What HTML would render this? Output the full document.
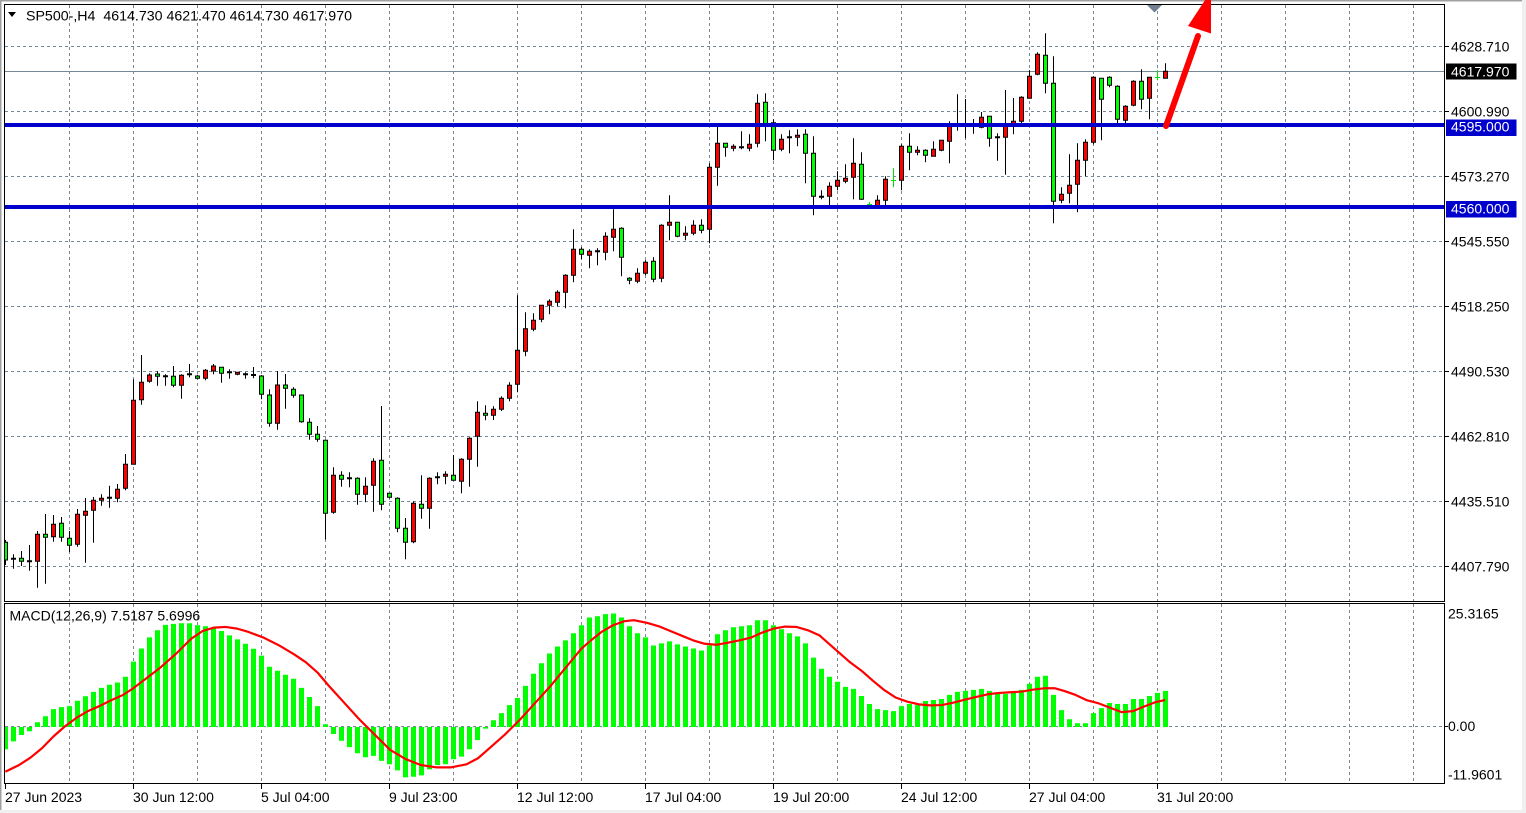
<!DOCTYPE html>
<html><head><meta charset="utf-8"><style>
html,body{margin:0;padding:0;background:#fff;width:1526px;height:813px;overflow:hidden}
svg{display:block}
text{font-family:"Liberation Sans",Arial,sans-serif;font-size:14px;fill:#000}
</style></head><body>
<svg width="1526" height="813" viewBox="0 0 1526 813" xmlns="http://www.w3.org/2000/svg">
<defs>
<clipPath id="cm"><rect x="5" y="5" width="1439" height="596"/></clipPath>
<clipPath id="cd"><rect x="5" y="604" width="1439" height="179"/></clipPath>
</defs>
<rect x="0" y="0" width="1526" height="813" fill="#fff"/>
<rect x="0" y="0" width="1526" height="1.5" fill="#a0a0a0"/>
<rect x="0" y="0" width="1.5" height="813" fill="#a0a0a0"/>
<rect x="1522" y="0" width="4" height="813" fill="#f0f0f0"/>
<rect x="0" y="810" width="1526" height="3" fill="#f0f0f0"/>

<!-- grid main -->
<g stroke="#778899" stroke-width="1" stroke-dasharray="3 3" fill="none">
<path d="M5 46.5H1444M5 111.5H1444M5 176.5H1444M5 241.5H1444M5 306.5H1444M5 371.5H1444M5 436.5H1444M5 501.5H1444M5 566.5H1444"/>
<path d="M69.5 5V601M133.5 5V601M197.5 5V601M261.5 5V601M325.5 5V601M389.5 5V601M453.5 5V601M517.5 5V601M581.5 5V601M645.5 5V601M709.5 5V601M773.5 5V601M837.5 5V601M901.5 5V601M965.5 5V601M1029.5 5V601M1093.5 5V601M1157.5 5V601M1221.5 5V601M1285.5 5V601M1349.5 5V601M1413.5 5V601"/>
<path d="M69.5 604V783M133.5 604V783M197.5 604V783M261.5 604V783M325.5 604V783M389.5 604V783M453.5 604V783M517.5 604V783M581.5 604V783M645.5 604V783M709.5 604V783M773.5 604V783M837.5 604V783M901.5 604V783M965.5 604V783M1029.5 604V783M1093.5 604V783M1157.5 604V783M1221.5 604V783M1285.5 604V783M1349.5 604V783M1413.5 604V783"/>
<path d="M5 726.5H1444"/>
</g>

<g clip-path="url(#cm)">
<!-- price line -->
<path d="M5 71.5H1444" stroke="#778899" stroke-width="1"/>
<!-- wicks -->
<path fill="none" stroke="#000" stroke-width="1" d="M5.5 540V565M13.5 554.3V568.7M21.5 551V566M29.5 545V570.7M37.5 531V587.7M45.5 514V583.7M53.5 515V541.7M61.5 517V541.7M69.5 531V552M77.5 509V546.7M85.5 498V562.7M93.5 497V542.7M101.5 494.3V505.7M109.5 485.7V507.7M117.5 484V502.3M125.5 454V490.3M133.5 379.3V464.3M141.5 355V404.7M149.5 373.3V382.7M157.5 371.3V385.7M165.5 374.3V385.7M173.5 366V387.3M181.5 374.3V398.7M189.5 364V377.3M197.5 374.7V379.3M205.5 369V380.3M213.5 364V374.3M221.5 367.3V382.7M229.5 369.3V378.7M237.5 372V375.3M245.5 372.3V378.7M253.5 367V378.3M261.5 375V399.3M269.5 389.3V426.7M277.5 371V429.7M285.5 374V408.7M293.5 387.3V397.7M301.5 395V422.7M309.5 418.3V439.7M317.5 426V441.7M325.5 440.3V539.3M333.5 467.3V513.7M341.5 471.3V486.7M349.5 472.3V487.3M357.5 477.3V504.7M365.5 477.3V502.3M373.5 458.3V511.7M381.5 406V510.3M389.5 493.3V498.3M397.5 497.3V532.3M405.5 518V559.3M413.5 501.3V543.3M421.5 475.3V518.7M429.5 477.3V528.7M437.5 472.3V484.3M445.5 471.3V484.3M453.5 455V480.3M461.5 458.3V493.3M469.5 437.3V486.7M477.5 401.3V466.7M485.5 405.3V420.3M493.5 406.3V420M501.5 396.3V411M509.5 382.3V401.3M517.5 295.3V392.3M525.5 312.3V356.3M533.5 313.3V331.3M541.5 305.3V322.3M549.5 299.3V314.3M557.5 290.3V306.3M565.5 274.3V308.3M573.5 229.3V282.3M581.5 247.3V259.3M589.5 249.3V268.3M597.5 248.3V265.3M605.5 232.3V260.3M613.5 209.3V251.3M621.5 227.3V276.3M629.5 277.3V284.3M637.5 268.3V283.3M645.5 260.3V275.3M653.5 257.3V282.3M661.5 224.3V282.3M669.5 195.3V240.3M677.5 222.3V237.3M685.5 226.3V240.3M693.5 220.3V235.3M701.5 219.3V233.3M709.5 163.3V243.3M717.5 126.7V185.7M725.5 143.3V156.7M733.5 144.3V151.3M741.5 131.3V149.3M749.5 134.3V151.3M757.5 94.3V147.3M765.5 93.3V141.3M773.5 119.3V160.3M781.5 134.3V151.3M789.5 130.3V153.3M797.5 129.3V146.3M805.5 129.3V183.3M813.5 136.3V215.3M821.5 190.3V199.3M829.5 182.3V206.7M837.5 171.3V190.3M845.5 164.3V183.3M853.5 138.3V199.3M861.5 152.3V200M877.5 195.3V208M885.5 176.3V206M901.5 144.3V190.3M909.5 133.3V170.3M917.5 146.3V155.3M925.5 149.3V162.3M933.5 141.3V156.3M941.5 140.3V151.3M949.5 121.3V163.3M957.5 94.3V130.7M965.5 99V138.3M973.5 119V133.7M981.5 112V128.3M989.5 116.3V146.7M997.5 133.3V160.7M1005.5 90V174.7M1013.5 98V134.3M1021.5 96.3V126.3M1029.5 70.3V98.3M1037.5 52.3V75.3M1045.5 33.3V93.3M1053.5 56.3V223.3M1061.5 187.3V203.3M1069.5 154.3V203.3M1077.5 143.3V212.3M1085.5 139.3V176.3M1093.5 76.3V144.3M1101.5 78.3V140.3M1109.5 76.3V87.3M1117.5 85.3V123.3M1125.5 105.3V123.3M1133.5 80.3V106.3M1141.5 69.3V109.3M1149.5 77.3V119.3M1165.5 63.3V78.3"/>
<!-- red bodies -->
<path fill="#ff0000" stroke="#000" stroke-width="1" d="M35.5 534.3h4V561.3h-4zM51.5 524.3h4V536.7h-4zM75.5 514.3h4V544.3h-4zM83.5 511.3h4V515.3h-4zM91.5 500.3h4V510.3h-4zM99.5 498.3h4V500.3h-4zM115.5 489.3h4V498.3h-4zM123.5 464.3h4V488.3h-4zM131.5 400.3h4V464.3h-4zM139.5 382.3h4V399.7h-4zM147.5 375h4V381.3h-4zM179.5 375.3h4V385.3h-4zM203.5 370.3h4V378.3h-4zM211.5 366h4V371h-4zM235.5 372.3h4V374.3h-4zM275.5 385h4V423.3h-4zM331.5 475.3h4V512.3h-4zM363.5 486.3h4V494.3h-4zM371.5 461.3h4V485.3h-4zM411.5 503.3h4V541.7h-4zM427.5 478.3h4V508.3h-4zM443.5 474.3h4V476.3h-4zM459.5 459.3h4V481.3h-4zM467.5 438.3h4V459.3h-4zM475.5 412.3h4V436.3h-4zM491.5 409.3h4V415.3h-4zM499.5 398.3h4V409.3h-4zM507.5 385.3h4V398.3h-4zM515.5 350.3h4V384.3h-4zM523.5 328.7h4V351.3h-4zM531.5 320.3h4V329.3h-4zM539.5 305.3h4V319.3h-4zM547.5 301.3h4V305.3h-4zM555.5 292.3h4V302.3h-4zM563.5 275.3h4V292.3h-4zM571.5 249.3h4V275.3h-4zM587.5 251.3h4V255.3h-4zM603.5 236.3h4V252.3h-4zM611.5 229.3h4V237.3h-4zM635.5 273.3h4V281.3h-4zM643.5 262.3h4V273.3h-4zM659.5 225.3h4V278.3h-4zM667.5 222.3h4V225.3h-4zM683.5 233.3h4V235.3h-4zM691.5 225.3h4V233.3h-4zM707.5 167.3h4V229.3h-4zM715.5 143.3h4V167.3h-4zM731.5 146.3h4V148.3h-4zM747.5 144.3h4V148.3h-4zM755.5 103.3h4V143.3h-4zM779.5 139.3h4V149.3h-4zM795.5 135.3h4V137.3h-4zM827.5 186.3h4V196.3h-4zM835.5 180.3h4V186.3h-4zM843.5 178.3h4V181.3h-4zM851.5 163.3h4V177.3h-4zM875.5 200.3h4V206h-4zM883.5 179.3h4V200.3h-4zM899.5 146.3h4V180.3h-4zM915.5 150.3h4V152.3h-4zM931.5 149.3h4V156.3h-4zM939.5 140.3h4V150.3h-4zM947.5 126.3h4V141.3h-4zM979.5 117.3h4V127.3h-4zM1003.5 125.3h4V137.3h-4zM1011.5 121.3h4V125.3h-4zM1019.5 97.3h4V121.3h-4zM1027.5 76.3h4V98.3h-4zM1035.5 54.3h4V74.3h-4zM1059.5 194.3h4V200.3h-4zM1067.5 185.3h4V193.3h-4zM1075.5 160.3h4V184.3h-4zM1083.5 142.3h4V160.3h-4zM1091.5 77.3h4V142.3h-4zM1123.5 106.3h4V120.3h-4zM1131.5 81.3h4V105.3h-4zM1147.5 77.3h4V98.3h-4zM1163.5 71.3h4V78.3h-4z"/>
<!-- green bodies -->
<path fill="#00ff00" stroke="#000" stroke-width="1" d="M3.5 542.3h4V560h-4zM19.5 558.3h4V561.3h-4zM43.5 534.3h4V537.3h-4zM59.5 523.3h4V537.3h-4zM67.5 538.3h4V545.3h-4zM155.5 374h4V376.3h-4zM171.5 376.3h4V385.3h-4zM195.5 376h4V378.3h-4zM219.5 367.3h4V373.3h-4zM259.5 376h4V394.3h-4zM267.5 395h4V423.3h-4zM283.5 385h4V388.3h-4zM291.5 389.3h4V395.3h-4zM299.5 395h4V421.7h-4zM307.5 422.3h4V434.3h-4zM315.5 434.3h4V439.3h-4zM323.5 440.3h4V513.3h-4zM339.5 475.3h4V479.3h-4zM355.5 478.3h4V494.3h-4zM379.5 460.3h4V504.3h-4zM387.5 493.3h4V497.3h-4zM395.5 498.3h4V528.3h-4zM403.5 528.3h4V542.3h-4zM419.5 504.3h4V508.3h-4zM451.5 475.3h4V480.3h-4zM483.5 413.3h4V415.3h-4zM579.5 249.3h4V254.3h-4zM619.5 228.3h4V257.3h-4zM627.5 278.3h4V280.3h-4zM651.5 261.3h4V279.3h-4zM675.5 222.3h4V236.3h-4zM699.5 225.3h4V230.3h-4zM723.5 143.3h4V147.3h-4zM763.5 102.3h4V125h-4zM771.5 122.7h4V150.3h-4zM803.5 134.3h4V153.3h-4zM811.5 153.3h4V196.3h-4zM859.5 164.3h4V199.3h-4zM907.5 146.3h4V152.3h-4zM923.5 150.3h4V155.3h-4zM987.5 116.3h4V138.3h-4zM1043.5 55.3h4V83.3h-4zM1051.5 83.3h4V201.3h-4zM1099.5 78.3h4V99.3h-4zM1107.5 77.3h4V85.3h-4zM1115.5 86.3h4V119.3h-4zM1139.5 81.3h4V99.3h-4z"/>
<!-- doji dashes -->
<path fill="#000" stroke="#000" stroke-width="1" d="M11.5 558.3h4v1h-4zM27.5 560.8h4v1h-4zM107.5 497.2h4v1h-4zM163.5 375.8h4v1h-4zM187.5 373.8h4v1h-4zM227.5 371.8h4v1h-4zM243.5 373.8h4v1h-4zM251.5 374.5h4v1h-4zM347.5 477.8h4v1h-4zM435.5 476.8h4v1h-4zM595.5 250.8h4v1h-4zM739.5 146.8h4v1h-4zM787.5 136.8h4v1h-4zM819.5 196.2h4v1h-4zM955.5 124.5h4v1h-4zM963.5 124.5h4v1h-4zM971.5 124.5h4v1h-4zM995.5 136.8h4v1h-4z"/>
<!-- lime crosses -->
<path fill="none" stroke="#00dd00" stroke-width="1" d="M869.5 202V206M867 204.5h5M893.5 168.3V187.3M891 180.5h5M1157.5 70.3V80.3M1155 77.5h5"/>
<!-- blue levels -->
<path d="M5 125H1444M5 207H1444" stroke="#0000cd" stroke-width="4"/>
</g>

<!-- chart shift marker -->
<polygon points="1147,5 1162,5 1154.5,12.5" fill="#708090"/>

<!-- MACD -->
<g clip-path="url(#cd)">
<path fill="#00ff00" d="M3 749.2h5V727h-5zM11 741.4h5V727h-5zM19 735h5V727h-5zM27 731.3h5V727h-5zM35 722.2h5V727h-5zM43 716.2h5V727h-5zM51 709.1h5V727h-5zM59 707.1h5V727h-5zM67 706.1h5V727h-5zM75 700.7h5V727h-5zM83 696.3h5V727h-5zM91 691.9h5V727h-5zM99 687.9h5V727h-5zM107 684.8h5V727h-5zM115 682.5h5V727h-5zM123 676.8h5V727h-5zM131 661.6h5V727h-5zM139 648.5h5V727h-5zM147 637.4h5V727h-5zM155 630.3h5V727h-5zM163 624.9h5V727h-5zM171 623.9h5V727h-5zM179 623.2h5V727h-5zM187 623.2h5V727h-5zM195 625.3h5V727h-5zM203 626.3h5V727h-5zM211 628.3h5V727h-5zM219 631h5V727h-5zM227 635.4h5V727h-5zM235 639.4h5V727h-5zM243 643.8h5V727h-5zM251 648.8h5V727h-5zM259 655.6h5V727h-5zM267 666.7h5V727h-5zM275 670.7h5V727h-5zM283 674.7h5V727h-5zM291 678.8h5V727h-5zM299 687.9h5V727h-5zM307 697h5V727h-5zM315 706.1h5V727h-5zM323 724.2h5V727h-5zM331 734h5V727h-5zM339 740.7h5V727h-5zM347 747.1h5V727h-5zM355 753.2h5V727h-5zM363 757.2h5V727h-5zM371 755.9h5V727h-5zM379 760.9h5V727h-5zM387 764.3h5V727h-5zM395 770.4h5V727h-5zM403 777.4h5V727h-5zM411 776.8h5V727h-5zM419 775.4h5V727h-5zM427 769.4h5V727h-5zM435 765h5V727h-5zM443 764.3h5V727h-5zM451 759.3h5V727h-5zM459 756.6h5V727h-5zM467 749.2h5V727h-5zM475 740.1h5V727h-5zM483 728.6h5V727h-5zM491 720.2h5V727h-5zM499 713.1h5V727h-5zM507 705.1h5V727h-5zM515 698h5V727h-5zM523 685.9h5V727h-5zM531 673.7h5V727h-5zM539 663.3h5V727h-5zM547 653.5h5V727h-5zM555 646.5h5V727h-5zM563 640.4h5V727h-5zM571 633.3h5V727h-5zM579 625.3h5V727h-5zM587 617.5h5V727h-5zM595 616.2h5V727h-5zM603 614.1h5V727h-5zM611 613.5h5V727h-5zM619 617.5h5V727h-5zM627 626.3h5V727h-5zM635 633.3h5V727h-5zM643 637.4h5V727h-5zM651 645.5h5V727h-5zM659 643.4h5V727h-5zM667 641.4h5V727h-5zM675 644.4h5V727h-5zM683 646.5h5V727h-5zM691 648.5h5V727h-5zM699 650.5h5V727h-5zM707 645.5h5V727h-5zM715 634.3h5V727h-5zM723 630.3h5V727h-5zM731 627.3h5V727h-5zM739 626.3h5V727h-5zM747 625.3h5V727h-5zM755 620.2h5V727h-5zM763 620.2h5V727h-5zM771 625.3h5V727h-5zM779 629.3h5V727h-5zM787 633.3h5V727h-5zM795 636.4h5V727h-5zM803 643.4h5V727h-5zM811 657.6h5V727h-5zM819 668.7h5V727h-5zM827 676.8h5V727h-5zM835 681.8h5V727h-5zM843 686.9h5V727h-5zM851 688.9h5V727h-5zM859 696h5V727h-5zM867 704h5V727h-5zM875 709.1h5V727h-5zM883 710.1h5V727h-5zM891 711.1h5V727h-5zM899 706.1h5V727h-5zM907 704h5V727h-5zM915 705.1h5V727h-5zM923 701h5V727h-5zM931 700h5V727h-5zM939 699h5V727h-5zM947 694.9h5V727h-5zM955 691.9h5V727h-5zM963 690.9h5V727h-5zM971 689.9h5V727h-5zM979 688.9h5V727h-5zM987 690.9h5V727h-5zM995 692.9h5V727h-5zM1003 693.9h5V727h-5zM1011 691.9h5V727h-5zM1019 689.9h5V727h-5zM1027 683.8h5V727h-5zM1035 676.8h5V727h-5zM1043 675.8h5V727h-5zM1051 694.9h5V727h-5zM1059 710.1h5V727h-5zM1067 719.2h5V727h-5zM1075 723.2h5V727h-5zM1083 723.2h5V727h-5zM1091 713.1h5V727h-5zM1099 708.1h5V727h-5zM1107 703h5V727h-5zM1115 704h5V727h-5zM1123 704h5V727h-5zM1131 699h5V727h-5zM1139 699h5V727h-5zM1147 696h5V727h-5zM1155 692.9h5V727h-5zM1163 690.9h5V727h-5z"/>
<g transform="translate(0,600) scale(0.38241,0.33670)">
<polyline fill="none" stroke="#ff0000" stroke-width="2.2" vector-effect="non-scaling-stroke" stroke-linejoin="round" points="14,510 50,490 80,468 110,440 140,405 170,375 200,350 230,330 260,315 290,298 320,283 345,265 380,235 420,200 460,160 500,115 530,92 560,82 590,80 620,85 650,95 690,112 730,135 770,162 800,185 830,215 860,255 900,305 940,355 980,400 1020,445 1060,472 1100,490 1140,497 1180,497 1220,488 1250,470 1280,440 1320,400 1360,355 1400,305 1440,255 1480,200 1520,145 1542,123"/>
</g>
<g transform="translate(590,600) scale(0.38241,0.33670)">
<polyline fill="none" stroke="#ff0000" stroke-width="2.2" vector-effect="non-scaling-stroke" stroke-linejoin="round" points="0,122 30,95 60,75 90,63 115,60 150,68 180,78 210,92 240,106 270,120 300,130 330,133 360,127 390,120 420,112 450,97 480,85 510,79 540,80 570,90 600,105 625,130 650,155 680,185 710,210 740,240 770,268 800,290 830,302 860,310 890,313 920,312 950,305 980,296 1010,288 1040,280 1070,276 1100,274 1130,272 1160,266 1190,262 1215,262 1240,270 1270,282 1300,298 1330,307 1360,320 1390,333 1420,330 1450,316 1480,303 1504,297"/>
</g>
</g>

<!-- frames -->
<rect x="4.5" y="4.5" width="1440" height="597" fill="none" stroke="#000" stroke-width="1"/>
<rect x="4.5" y="603.5" width="1440" height="180" fill="none" stroke="#000" stroke-width="1"/>

<!-- ticks -->
<path stroke="#000" stroke-width="1" d="M1445 46.5h4M1445 111.5h4M1445 176.5h4M1445 241.5h4M1445 306.5h4M1445 371.5h4M1445 436.5h4M1445 501.5h4M1445 566.5h4M1445 726.5h3M5.5 784v5M133.5 784v5M261.5 784v5M389.5 784v5M517.5 784v5M645.5 784v5M773.5 784v5M901.5 784v5M1029.5 784v5M1157.5 784v5"/>

<!-- header -->
<polygon points="8,12 16,12 12,17" fill="#000"/>
<text x="26" y="20.5" textLength="326" lengthAdjust="spacingAndGlyphs" style="white-space:pre">SP500-,H4  4614.730 4621.470 4614.730 4617.970</text>
<text x="9.5" y="620.5">MACD(12,26,9) 7.5187 5.6996</text>

<!-- price axis -->
<text x="1451" y="51.5">4628.710</text>
<text x="1451" y="116.5">4600.990</text>
<text x="1451" y="181.5">4573.270</text>
<text x="1451" y="246.5">4545.550</text>
<text x="1451" y="311.5">4518.250</text>
<text x="1451" y="376.5">4490.530</text>
<text x="1451" y="441.5">4462.810</text>
<text x="1451" y="506.5">4435.510</text>
<text x="1451" y="571.5">4407.790</text>
<rect x="1446" y="63.5" width="70.5" height="16" fill="#000"/>
<text x="1451" y="76.3" style="fill:#fff">4617.970</text>
<rect x="1446" y="119.5" width="70.5" height="16.5" fill="#0000cd"/>
<text x="1451" y="131.3" style="fill:#fff">4595.000</text>
<rect x="1446" y="201" width="70.5" height="16.5" fill="#0000cd"/>
<text x="1451" y="213.3" style="fill:#fff">4560.000</text>

<!-- MACD axis -->
<text x="1448" y="618.5">25.3165</text>
<text x="1448" y="730.8">0.00</text>
<text x="1448" y="779.5">-11.9601</text>

<!-- time axis -->
<text x="5" y="802">27 Jun 2023</text>
<text x="133" y="802">30 Jun 12:00</text>
<text x="261" y="802">5 Jul 04:00</text>
<text x="389" y="802">9 Jul 23:00</text>
<text x="517" y="802">12 Jul 12:00</text>
<text x="645" y="802">17 Jul 04:00</text>
<text x="773" y="802">19 Jul 20:00</text>
<text x="901" y="802">24 Jul 12:00</text>
<text x="1029" y="802">27 Jul 04:00</text>
<text x="1157" y="802">31 Jul 20:00</text>

<!-- red arrow -->
<line x1="1166" y1="126" x2="1198" y2="36" stroke="#ff0000" stroke-width="6" stroke-linecap="round"/>
<polygon points="1188,26 1211,33.5 1211,-9" fill="#ff0000"/>
</svg>
</body></html>
